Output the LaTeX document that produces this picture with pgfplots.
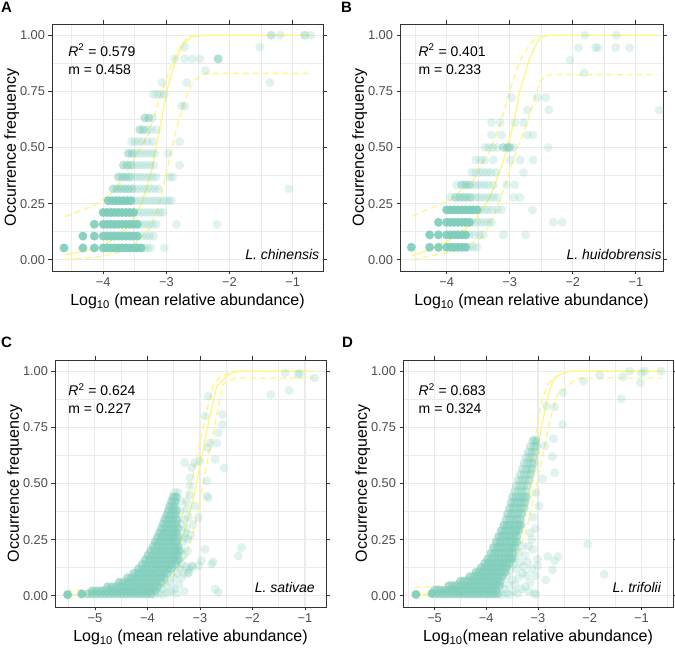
\documentclass[border=0pt]{standalone}
\usepackage{fontspec}
\setmainfont{Liberation Sans}
\usepackage{pgfplots}
\pgfplotsset{compat=1.18}

\definecolor{ptc}{RGB}{127,205,187}
\definecolor{fitc}{RGB}{255,245,130}
\definecolor{grid92}{gray}{0.92}
\definecolor{grey20}{gray}{0.2}
\definecolor{grey30}{gray}{0.3}

\tikzset{note/.style={font=\fontsize{14}{16}\selectfont, inner sep=0pt}}

\pgfplotsset{
  occ/.style={
    scale only axis,
    height=247pt,
    ymin=-0.05, ymax=1.05,
    ytick={0,0.25,0.5,0.75,1},
    yticklabels={0.00,0.25,0.50,0.75,1.00},
    minor ytick={0.125,0.375,0.625,0.875},
    grid=both,
    major grid style={grid92, line width=1.1pt},
    minor grid style={grid92, line width=0.55pt},
    axis line style={grey20, line width=0.8pt},
    tick style={grey20, line width=0.8pt},
    tick align=outside,
    major tick length=3.5pt,
    minor tick length=0pt,
    ticklabel style={font=\fontsize{12.8}{14}\selectfont, text=grey30},
    label style={font=\fontsize{16}{18}\selectfont},
    ylabel={Occurrence frequency},
    ylabel shift=-6pt,
    anchor=south west,
  },
  sat/.style={only marks, mark=*, color=ptc, mark size=4.5pt, mark options={draw opacity=0, fill=ptc, fill opacity=0.92}},
  core/.style={only marks, mark=*, color=ptc, mark size=4.5pt, mark options={draw opacity=0, fill=ptc, fill opacity=0.5}},
  mid/.style={only marks, mark=*, color=ptc, mark size=4.5pt, mark options={draw opacity=0, fill=ptc, fill opacity=0.38}},
  dense/.style={only marks, mark=*, color=ptc, mark size=4.5pt, mark options={draw opacity=0, fill=ptc, fill opacity=0.62}},
  faint/.style={only marks, mark=*, color=ptc, mark size=4.5pt, mark options={draw opacity=0, fill=ptc, fill opacity=0.24}},
  fit/.style={no markers, fitc, line width=1.3pt},
  fitd/.style={no markers, fitc, line width=1.3pt, dash pattern=on 6pt off 4pt},
}

\begin{document}
\begin{tikzpicture}
\useasboundingbox (0,0) rectangle (675pt,652pt);

% ---------------- A ----------------
\begin{axis}[occ, at={(52pt,381pt)}, width=271pt,
  xmin=-4.81, xmax=-0.52,
  xtick={-4,-3,-2,-1}, xticklabels={−4,−3,−2,−1},
  minor xtick={-4.5,-3.5,-2.5,-1.5},
  xlabel={Log\textsubscript{10} (mean relative abundance)}]
\addplot[sat] coordinates {
(-4.62,0.0526)(-4.32,0.0526)(-4.14,0.0526)(-4.00,0.0526)(-3.94,0.0526)(-3.88,0.0526)(-3.82,0.0526)(-3.76,0.0526)(-3.70,0.0526)(-3.64,0.0526)(-3.58,0.0526)(-3.52,0.0526)(-3.46,0.0526)(-3.40,0.0526)
(-4.32,0.1053)(-4.14,0.1053)(-4.00,0.1053)(-3.94,0.1053)(-3.88,0.1053)(-3.82,0.1053)(-3.76,0.1053)(-3.70,0.1053)(-3.64,0.1053)(-3.58,0.1053)(-3.52,0.1053)(-3.46,0.1053)
(-4.14,0.1579)(-4.00,0.1579)(-3.94,0.1579)(-3.88,0.1579)(-3.82,0.1579)(-3.76,0.1579)(-3.70,0.1579)(-3.64,0.1579)(-3.58,0.1579)(-3.52,0.1579)(-3.46,0.1579)
(-4.00,0.2105)(-3.94,0.2105)(-3.88,0.2105)(-3.82,0.2105)(-3.76,0.2105)(-3.70,0.2105)(-3.64,0.2105)(-3.58,0.2105)(-3.52,0.2105)
(-3.92,0.2632)(-3.86,0.2632)(-3.80,0.2632)(-3.74,0.2632)(-3.68,0.2632)(-3.62,0.2632)(-3.56,0.2632)
};
\addplot[core] coordinates {
(-3.84,0.3158)(-3.78,0.3158)(-3.72,0.3158)(-3.66,0.3158)(-3.60,0.3158)(-3.54,0.3158)
(-3.76,0.3684)(-3.70,0.3684)(-3.64,0.3684)(-3.58,0.3684)
(-3.68,0.4211)(-3.62,0.4211)(-3.56,0.4211)
(-3.60,0.4737)(-3.54,0.4737)
(-3.42,0.5789)(-3.36,0.5789)(-3.34,0.6316)(-3.28,0.6316)(-2.18,0.8947)
};
\addplot[faint] coordinates {
(-3.35,0.0526)(-3.30,0.0526)(-3.25,0.0526)(-3.03,0.0526)
(-3.38,0.1053)(-3.32,0.1053)(-3.26,0.1053)(-3.20,0.1053)
(-3.40,0.1579)(-3.34,0.1579)(-3.28,0.1579)(-3.22,0.1579)(-3.16,0.1579)(-2.84,0.1579)(-2.20,0.1579)
(-3.46,0.2105)(-3.40,0.2105)(-3.34,0.2105)(-3.28,0.2105)(-3.22,0.2105)(-3.16,0.2105)(-3.10,0.2105)(-3.05,0.2105)
(-3.50,0.2632)(-3.44,0.2632)(-3.38,0.2632)(-3.32,0.2632)(-3.26,0.2632)(-3.20,0.2632)(-3.14,0.2632)(-3.08,0.2632)(-3.02,0.2632)(-2.96,0.2632)(-2.92,0.2632)
(-3.48,0.3158)(-3.42,0.3158)(-3.36,0.3158)(-3.30,0.3158)(-3.24,0.3158)(-3.18,0.3158)(-3.12,0.3158)(-1.06,0.3158)
(-3.52,0.3684)(-3.46,0.3684)(-3.40,0.3684)(-3.34,0.3684)(-3.28,0.3684)(-3.22,0.3684)(-3.16,0.3684)(-2.95,0.3684)(-2.90,0.3684)
(-3.50,0.4211)(-3.44,0.4211)(-3.38,0.4211)(-3.32,0.4211)(-3.26,0.4211)(-3.20,0.4211)(-2.79,0.4211)
(-3.48,0.4737)(-3.42,0.4737)(-3.36,0.4737)(-3.30,0.4737)(-3.24,0.4737)(-3.18,0.4737)(-2.97,0.4737)
(-3.55,0.5263)(-3.50,0.5263)(-3.44,0.5263)(-3.38,0.5263)(-3.30,0.5263)(-3.22,0.5263)(-2.79,0.5263)
(-3.30,0.5789)(-3.24,0.5789)(-3.16,0.5789)
(-3.22,0.6316)
(-2.76,0.6842)(-2.71,0.6842)
(-3.21,0.7368)(-3.15,0.7368)(-3.09,0.7368)(-3.03,0.7368)
(-3.07,0.7895)(-2.68,0.7895)(-1.36,0.7895)
(-2.38,0.8421)
(-2.87,0.8947)(-2.71,0.8947)(-2.59,0.8947)(-2.47,0.8947)(-2.18,0.8947)
(-2.71,0.9474)(-1.52,0.9474)
(-1.34,1.0)(-1.20,1.0)(-0.81,1.0)(-0.71,1.0)(-1.34,1.0)(-0.81,1.0)
};
\addplot[fit] coordinates {(-4.60,0.022)(-4.30,0.038)(-4.02,0.059)(-3.80,0.100)(-3.60,0.148)(-3.39,0.251)(-3.23,0.400)(-3.12,0.561)(-2.99,0.753)(-2.86,0.886)(-2.73,0.960)(-2.60,0.993)(-2.39,1.0)(-0.71,1.0)};
\addplot[fitd] coordinates {(-4.60,0.192)(-4.13,0.244)(-3.81,0.310)(-3.55,0.428)(-3.28,0.561)(-3.17,0.660)(-3.07,0.753)(-2.90,0.880)(-2.78,0.950)(-2.67,0.990)(-2.55,1.0)};
\addplot[fitd] coordinates {(-4.60,0.0)(-4.02,0.015)(-3.60,0.044)(-3.28,0.133)(-3.12,0.236)(-2.99,0.400)(-2.86,0.561)(-2.73,0.690)(-2.62,0.770)(-2.55,0.800)(-2.39,0.830)(-0.71,0.830)};
\node[note, anchor=base west] at (axis cs:-4.555,0.907) {\textit{R}\textsuperscript{2} = 0.579};
\node[note, anchor=base west] at (axis cs:-4.555,0.823) {m = 0.458};
\node[note, anchor=base east] at (axis cs:-0.577,0.0) {\textit{L. chinensis}};
\end{axis}

% ---------------- B ----------------
\begin{axis}[occ, at={(400pt,381pt)}, width=263pt,
  xmin=-4.74, xmax=-0.57,
  xtick={-4,-3,-2,-1}, xticklabels={−4,−3,−2,−1},
  minor xtick={-4.5,-3.5,-2.5,-1.5},
  xlabel={Log\textsubscript{10} (mean relative abundance)}]
\addplot[sat] coordinates {
(-4.56,0.0556)(-4.27,0.0556)(-4.13,0.0556)(-4.00,0.0556)(-3.94,0.0556)(-3.88,0.0556)(-3.82,0.0556)(-3.76,0.0556)(-3.70,0.0556)
(-4.27,0.1111)(-4.13,0.1111)(-4.00,0.1111)(-3.94,0.1111)(-3.88,0.1111)(-3.82,0.1111)(-3.76,0.1111)(-3.70,0.1111)
(-4.13,0.1667)(-4.00,0.1667)(-3.94,0.1667)(-3.88,0.1667)(-3.82,0.1667)(-3.76,0.1667)(-3.70,0.1667)(-3.64,0.1667)
(-4.00,0.2222)(-3.94,0.2222)(-3.88,0.2222)(-3.82,0.2222)(-3.76,0.2222)(-3.70,0.2222)(-3.64,0.2222)(-3.58,0.2222)(-3.52,0.2222)
};
\addplot[core] coordinates {
(-3.86,0.2778)(-3.80,0.2778)(-3.74,0.2778)(-3.68,0.2778)(-3.62,0.2778)
(-3.76,0.3333)(-3.70,0.3333)(-3.64,0.3333)
(-3.10,0.5)(-3.04,0.5)(-3.00,0.5)
};
\addplot[faint] coordinates {
(-3.64,0.0556)(-3.58,0.0556)(-3.52,0.0556)
(-3.64,0.1111)(-3.56,0.1111)(-3.48,0.1111)(-3.42,0.1111)(-3.10,0.1111)(-2.75,0.1111)
(-3.58,0.1667)(-3.52,0.1667)(-3.46,0.1667)(-3.40,0.1667)(-3.34,0.1667)(-3.29,0.1667)(-2.31,0.1667)(-2.17,0.1667)
(-3.46,0.2222)(-3.40,0.2222)(-3.34,0.2222)(-3.28,0.2222)(-3.20,0.2222)(-3.13,0.2222)(-2.64,0.2222)
(-3.94,0.2778)(-3.56,0.2778)(-3.50,0.2778)(-3.44,0.2778)(-3.38,0.2778)(-3.32,0.2778)(-3.26,0.2778)(-3.20,0.2778)(-2.94,0.2778)(-2.84,0.2778)
(-3.84,0.3333)(-3.58,0.3333)(-3.52,0.3333)(-3.46,0.3333)(-3.40,0.3333)(-3.34,0.3333)(-3.26,0.3333)(-3.05,0.3333)(-2.92,0.3333)
(-3.60,0.3889)(-3.54,0.3889)(-3.48,0.3889)(-3.42,0.3889)(-3.36,0.3889)(-3.30,0.3889)(-3.22,0.3889)(-2.78,0.3889)
(-3.54,0.4444)(-3.46,0.4444)(-3.40,0.4444)(-3.26,0.4444)(-2.99,0.4444)(-2.84,0.4444)(-2.63,0.4444)
(-3.39,0.5)(-3.33,0.5)(-3.27,0.5)(-3.20,0.5)(-2.94,0.5)(-2.39,0.5)
(-3.29,0.5556)(-3.13,0.5556)(-2.72,0.5556)(-2.63,0.5556)
(-3.29,0.6111)(-3.15,0.6111)(-2.92,0.6111)(-2.78,0.6111)
(-2.72,0.6667)(-2.38,0.6667)(-0.63,0.6667)
(-2.97,0.7222)(-2.56,0.7222)(-2.43,0.7222)
(-1.82,0.8333)
(-2.04,0.8889)
(-1.91,0.9444)(-1.64,0.9444)(-1.60,0.9444)(-1.32,0.9444)(-1.10,0.9444)
(-1.81,1.0)(-1.31,1.0)
};
\addplot[fit] coordinates {(-4.56,0.018)(-4.30,0.040)(-3.95,0.089)(-3.58,0.162)(-3.31,0.280)(-3.15,0.400)(-3.05,0.487)(-2.94,0.606)(-2.84,0.753)(-2.68,0.900)(-2.60,0.950)(-2.52,0.990)(-2.38,1.0)(-0.65,1.0)};
\addplot[fitd] coordinates {(-4.54,0.195)(-3.95,0.266)(-3.58,0.355)(-3.31,0.487)(-3.15,0.606)(-3.00,0.753)(-2.84,0.886)(-2.68,0.960)(-2.55,1.0)};
\addplot[fitd] coordinates {(-4.54,0.0)(-3.79,0.044)(-3.42,0.103)(-3.21,0.220)(-3.05,0.355)(-2.89,0.487)(-2.73,0.606)(-2.60,0.724)(-2.52,0.797)(-2.39,0.824)(-0.65,0.824)};
\node[note, anchor=base west] at (axis cs:-4.449,0.907) {\textit{R}\textsuperscript{2} = 0.401};
\node[note, anchor=base west] at (axis cs:-4.449,0.823) {m = 0.233};
\node[note, anchor=base east] at (axis cs:-0.59,0.0) {\textit{L. huidobrensis}};
\end{axis}

% ---------------- C ----------------
\begin{axis}[occ, at={(55pt,45pt)}, width=271pt,
  xmin=-5.76, xmax=-0.6,
  xtick={-5,-4,-3,-2,-1}, xticklabels={−5,−4,−3,−2,−1},
  minor xtick={-5.5,-4.5,-3.5,-2.5,-1.5},
  xlabel={Log\textsubscript{10} (mean relative abundance)}]
\addplot[sat] coordinates {(-5.52,0.005)(-5.25,0.008)};
\addplot[dense] coordinates {
(-5.13,0.008)(-5.05,0.008)(-4.97,0.008)(-4.89,0.008)(-4.81,0.008)(-4.73,0.008)(-4.65,0.008)(-4.57,0.008)(-4.49,0.008)(-4.41,0.008)(-4.33,0.008)(-4.25,0.008)(-4.17,0.008)(-4.09,0.008)(-4.01,0.008)(-3.93,0.008)
(-5.05,0.022)(-4.97,0.022)(-4.89,0.022)(-4.81,0.022)(-4.73,0.022)(-4.65,0.022)(-4.57,0.022)(-4.49,0.022)(-4.41,0.022)(-4.33,0.022)(-4.25,0.022)(-4.17,0.022)(-4.09,0.022)(-4.01,0.022)(-3.93,0.022)(-3.85,0.022)
(-4.76,0.04)(-4.68,0.04)(-4.60,0.04)(-4.52,0.04)(-4.44,0.04)(-4.36,0.04)(-4.28,0.04)(-4.20,0.04)(-4.12,0.04)(-4.04,0.04)(-3.96,0.04)(-3.88,0.04)(-3.80,0.04)
(-4.54,0.06)(-4.46,0.06)(-4.38,0.06)(-4.30,0.06)(-4.22,0.06)(-4.14,0.06)(-4.06,0.06)(-3.98,0.06)(-3.90,0.06)(-3.82,0.06)(-3.74,0.06)
(-4.38,0.08)(-4.30,0.08)(-4.22,0.08)(-4.14,0.08)(-4.06,0.08)(-3.98,0.08)(-3.90,0.08)(-3.82,0.08)(-3.74,0.08)(-3.68,0.08)
(-4.26,0.10)(-4.18,0.10)(-4.10,0.10)(-4.02,0.10)(-3.94,0.10)(-3.86,0.10)(-3.78,0.10)(-3.70,0.10)(-3.62,0.10)
(-4.17,0.12)(-4.09,0.12)(-4.01,0.12)(-3.93,0.12)(-3.85,0.12)(-3.77,0.12)(-3.69,0.12)(-3.61,0.12)(-3.54,0.12)
(-4.10,0.14)(-4.02,0.14)(-3.94,0.14)(-3.86,0.14)(-3.78,0.14)(-3.70,0.14)(-3.62,0.14)(-3.54,0.14)(-3.47,0.14)
(-4.04,0.16)(-3.96,0.16)(-3.88,0.16)(-3.80,0.16)(-3.72,0.16)(-3.64,0.16)(-3.56,0.16)(-3.48,0.16)(-3.42,0.16)
(-3.99,0.18)(-3.91,0.18)(-3.83,0.18)(-3.75,0.18)(-3.67,0.18)(-3.59,0.18)(-3.51,0.18)(-3.43,0.18)
(-3.94,0.20)(-3.86,0.20)(-3.78,0.20)(-3.70,0.20)(-3.62,0.20)(-3.54,0.20)(-3.46,0.20)(-3.40,0.20)
(-3.89,0.22)(-3.81,0.22)(-3.73,0.22)(-3.65,0.22)(-3.57,0.22)(-3.49,0.22)(-3.42,0.22)
(-3.85,0.24)(-3.77,0.24)(-3.69,0.24)(-3.61,0.24)(-3.53,0.24)(-3.45,0.24)
(-3.81,0.26)(-3.73,0.26)(-3.65,0.26)(-3.57,0.26)(-3.49,0.26)(-3.42,0.26)
(-3.77,0.28)(-3.69,0.28)(-3.61,0.28)(-3.53,0.28)(-3.45,0.28)
(-3.73,0.30)(-3.65,0.30)(-3.57,0.30)(-3.49,0.30)(-3.42,0.30)
(-3.70,0.32)(-3.62,0.32)(-3.54,0.32)(-3.46,0.32)
(-3.67,0.34)(-3.59,0.34)(-3.51,0.34)(-3.44,0.34)
(-3.63,0.36)(-3.55,0.36)(-3.47,0.36)
(-3.60,0.38)(-3.52,0.38)(-3.45,0.38)
(-3.57,0.40)(-3.49,0.40)
(-3.54,0.42)(-3.47,0.42)
(-3.51,0.44)(-3.45,0.44)
};
\addplot[faint] coordinates {
(-3.86,0.006)(-3.78,0.01)(-3.70,0.005)(-3.62,0.012)(-3.55,0.02)(-3.48,0.03)(-3.40,0.05)(-3.72,0.03)(-3.64,0.045)(-3.57,0.06)(-3.50,0.08)(-3.44,0.10)
(-3.38,0.12)(-3.34,0.14)(-3.30,0.10)(-3.26,0.13)(-3.35,0.20)(-3.32,0.24)(-3.28,0.28)(-3.36,0.32)(-3.30,0.34)(-3.38,0.38)(-3.42,0.46)(-3.48,0.46)
(-3.36,0.42)(-3.20,0.12)(-3.14,0.13)(-3.22,0.10)(-3.35,0.08)(-3.45,0.01)(-3.30,0.02)(-3.40,0.16)(-3.30,0.18)(-3.24,0.20)(-3.20,0.45)(-3.25,0.42)
(-3.22,0.35)(-3.26,0.30)(-3.18,0.27)(-3.30,0.26)(-3.29,0.593)(-3.16,0.57)(-3.10,0.593)(-3.19,0.526)(-3.19,0.489)(-2.87,0.511)(-2.87,0.444)(-2.84,0.437)
(-3.25,0.385)(-3.10,0.40)(-3.03,0.348)(-3.13,0.318)(-3.23,0.252)(-2.90,0.207)(-2.21,0.215)(-2.27,0.178)(-2.97,0.156)(-2.75,0.151)(-2.78,0.141)(-3.16,0.133)
(-3.03,0.133)(-3.22,0.104)(-2.71,0.03)(-2.65,0.015)(-2.84,0.889)(-2.90,0.80)(-2.57,0.807)(-2.57,0.763)(-2.65,0.726)(-2.68,0.68)(-2.81,0.681)(-2.85,0.659)
(-2.71,0.607)(-2.54,0.57)(-1.65,0.896)(-1.30,0.914)(-1.38,0.993)(-1.10,0.99)(-1.13,0.985)(-0.82,0.97)(-3.00,0.60)
};
\addplot[fit] coordinates {(-5.54,0.003)(-5.00,0.007)(-4.52,0.022)(-4.00,0.052)(-3.70,0.104)(-3.51,0.163)(-3.32,0.267)(-3.19,0.370)(-3.06,0.504)(-2.94,0.652)(-2.81,0.800)(-2.68,0.933)(-2.57,0.960)(-2.45,0.985)(-2.33,0.997)(-2.20,1.0)(-0.84,1.0)};
\addplot[fitd] coordinates {(-5.54,0.022)(-5.00,0.030)(-4.52,0.052)(-4.00,0.104)(-3.70,0.185)(-3.51,0.252)(-3.32,0.370)(-3.16,0.504)(-3.03,0.652)(-2.90,0.800)(-2.75,0.933)(-2.62,0.975)(-2.45,0.995)(-2.33,1.0)(-0.84,1.0)};
\addplot[fitd] coordinates {(-5.16,0.0)(-4.52,0.003)(-4.00,0.018)(-3.70,0.044)(-3.44,0.104)(-3.25,0.193)(-3.10,0.311)(-2.97,0.459)(-2.84,0.622)(-2.71,0.770)(-2.57,0.940)(-2.45,0.955)(-2.33,0.970)(-0.84,0.970)};
\node[note, anchor=base west] at (axis cs:-5.508,0.892) {\textit{R}\textsuperscript{2} = 0.624};
\node[note, anchor=base west] at (axis cs:-5.508,0.810) {m = 0.227};
\node[note, anchor=base east] at (axis cs:-0.81,0.015) {\textit{L. sativae}};
\end{axis}

% ---------------- D ----------------
\begin{axis}[occ, at={(403pt,45pt)}, width=270pt,
  xmin=-5.61, xmax=-0.39,
  xtick={-5,-4,-3,-2,-1}, xticklabels={−5,−4,−3,−2,−1},
  minor xtick={-5.5,-4.5,-3.5,-2.5,-1.5,-0.5},
  xlabel={Log\textsubscript{10}(mean relative abundance)}]
\addplot[sat] coordinates {(-5.36,0.006)(-5.05,0.01)};
\addplot[dense] coordinates {
(-4.97,0.008)(-4.90,0.008)(-4.83,0.008)(-4.76,0.008)(-4.69,0.008)(-4.62,0.008)(-4.55,0.008)(-4.48,0.008)(-4.41,0.008)(-4.34,0.008)(-4.27,0.008)(-4.20,0.008)(-4.13,0.008)(-4.06,0.008)(-3.99,0.008)(-3.92,0.008)(-3.85,0.008)(-3.78,0.008)
(-5.00,0.025)(-4.93,0.025)(-4.86,0.025)(-4.79,0.025)(-4.72,0.025)(-4.65,0.025)(-4.58,0.025)(-4.51,0.025)(-4.44,0.025)(-4.37,0.025)(-4.30,0.025)(-4.23,0.025)(-4.16,0.025)(-4.09,0.025)(-4.02,0.025)(-3.95,0.025)(-3.88,0.025)(-3.81,0.025)
(-4.72,0.045)(-4.65,0.045)(-4.58,0.045)(-4.51,0.045)(-4.44,0.045)(-4.37,0.045)(-4.30,0.045)(-4.23,0.045)(-4.16,0.045)(-4.09,0.045)(-4.02,0.045)(-3.95,0.045)(-3.88,0.045)(-3.81,0.045)(-3.74,0.045)
(-4.50,0.065)(-4.43,0.065)(-4.36,0.065)(-4.29,0.065)(-4.22,0.065)(-4.15,0.065)(-4.08,0.065)(-4.01,0.065)(-3.94,0.065)(-3.87,0.065)(-3.80,0.065)(-3.73,0.065)
(-4.32,0.085)(-4.25,0.085)(-4.18,0.085)(-4.11,0.085)(-4.04,0.085)(-3.97,0.085)(-3.90,0.085)(-3.83,0.085)(-3.76,0.085)(-3.69,0.085)
(-4.20,0.105)(-4.13,0.105)(-4.06,0.105)(-3.99,0.105)(-3.92,0.105)(-3.85,0.105)(-3.78,0.105)(-3.71,0.105)(-3.64,0.105)
(-4.10,0.125)(-4.03,0.125)(-3.96,0.125)(-3.89,0.125)(-3.82,0.125)(-3.75,0.125)(-3.68,0.125)(-3.61,0.125)
(-4.03,0.145)(-3.96,0.145)(-3.89,0.145)(-3.82,0.145)(-3.75,0.145)(-3.68,0.145)(-3.61,0.145)(-3.55,0.145)
(-3.97,0.165)(-3.90,0.165)(-3.83,0.165)(-3.76,0.165)(-3.69,0.165)(-3.62,0.165)(-3.55,0.165)(-3.50,0.165)
(-3.91,0.19)(-3.84,0.19)(-3.77,0.19)(-3.70,0.19)(-3.63,0.19)(-3.56,0.19)(-3.49,0.19)
(-3.86,0.215)(-3.79,0.215)(-3.72,0.215)(-3.65,0.215)(-3.58,0.215)(-3.51,0.215)(-3.45,0.215)
(-3.81,0.24)(-3.74,0.24)(-3.67,0.24)(-3.60,0.24)(-3.53,0.24)(-3.46,0.24)(-3.41,0.24)
(-3.76,0.265)(-3.69,0.265)(-3.62,0.265)(-3.55,0.265)(-3.48,0.265)(-3.41,0.265)
(-3.71,0.29)(-3.64,0.29)(-3.57,0.29)(-3.50,0.29)(-3.43,0.29)(-3.37,0.29)
(-3.66,0.315)(-3.59,0.315)(-3.52,0.315)(-3.45,0.315)(-3.38,0.315)(-3.33,0.315)
};
\addplot[core] coordinates {
(-3.62,0.34)(-3.55,0.34)(-3.48,0.34)(-3.41,0.34)(-3.34,0.34)
(-3.59,0.365)(-3.52,0.365)(-3.45,0.365)(-3.38,0.365)(-3.31,0.365)
(-3.55,0.39)(-3.48,0.39)(-3.41,0.39)(-3.34,0.39)(-3.27,0.39)
(-3.52,0.415)(-3.45,0.415)(-3.38,0.415)(-3.31,0.415)(-3.25,0.415)
(-3.49,0.44)(-3.42,0.44)(-3.35,0.44)(-3.28,0.44)(-3.22,0.44)
};
\addplot[mid] coordinates {
(-3.45,0.465)(-3.38,0.465)(-3.31,0.465)(-3.24,0.465)
(-3.42,0.49)(-3.35,0.49)(-3.28,0.49)(-3.21,0.49)
(-3.38,0.515)(-3.31,0.515)(-3.24,0.515)(-3.17,0.515)
(-3.34,0.54)(-3.27,0.54)(-3.20,0.54)(-3.14,0.54)
(-3.30,0.565)(-3.23,0.565)(-3.16,0.565)(-3.11,0.565)
(-3.27,0.59)(-3.20,0.59)(-3.13,0.59)(-3.08,0.59)
(-3.23,0.615)(-3.16,0.615)(-3.09,0.615)
(-3.19,0.64)(-3.12,0.64)(-3.05,0.64)
(-3.15,0.665)(-3.08,0.665)(-3.03,0.665)
(-3.10,0.69)(-3.04,0.69)
};
\addplot[faint] coordinates {
(-3.70,0.005)(-3.62,0.01)(-3.55,0.005)(-3.48,0.02)(-3.40,0.01)(-3.32,0.03)(-3.65,0.03)(-3.58,0.05)(-3.50,0.07)(-3.44,0.05)(-3.38,0.08)(-3.30,0.10)
(-3.42,0.12)(-3.35,0.15)(-3.28,0.13)(-3.22,0.09)(-3.15,0.06)(-3.25,0.04)(-3.18,0.02)(-3.08,0.01)(-3.45,0.17)(-3.38,0.19)(-3.30,0.22)(-3.25,0.18)
(-3.20,0.15)(-3.12,0.12)(-3.05,0.09)(-3.60,0.09)(-3.55,0.11)(-3.48,0.14)
(-3.10,0.35)(-3.05,0.30)(-3.15,0.28)(-2.98,0.40)(-3.18,0.22)(-3.12,0.25)
(-3.10,0.207)(-3.01,0.163)(-2.81,0.175)(-2.68,0.156)(-2.61,0.175)(-3.01,0.133)(-2.72,0.116)(-2.85,0.071)(-3.04,0.007)(-2.04,0.23)(-1.72,0.096)
(-2.84,0.844)(-2.68,0.84)(-2.52,0.904)(-2.52,0.763)(-2.70,0.699)(-3.07,0.696)(-3.04,0.681)(-2.72,0.619)(-2.68,0.548)(-2.91,0.521)(-3.04,0.459)(-2.87,0.667)
(-2.12,0.956)(-1.81,0.982)(-1.36,0.975)(-1.23,1.0)(-1.00,0.993)(-0.94,1.0)(-1.02,0.948)(-1.39,0.877)(-0.62,1.0)
};
\addplot[fit] coordinates {(-5.39,0.003)(-5.00,0.010)(-4.52,0.030)(-4.00,0.074)(-3.74,0.126)(-3.55,0.193)(-3.35,0.296)(-3.19,0.430)(-3.06,0.578)(-2.94,0.741)(-2.81,0.889)(-2.71,0.960)(-2.62,0.978)(-2.46,0.998)(-2.30,1.0)(-0.61,1.0)};
\addplot[fitd] coordinates {(-5.39,0.037)(-5.00,0.041)(-4.52,0.067)(-4.00,0.133)(-3.74,0.207)(-3.55,0.281)(-3.35,0.400)(-3.19,0.548)(-3.06,0.696)(-2.94,0.859)(-2.81,0.940)(-2.70,0.970)(-2.46,0.996)(-2.30,1.0)(-0.61,1.0)};
\addplot[fitd] coordinates {(-5.39,0.0)(-5.00,0.0)(-4.52,0.007)(-4.00,0.037)(-3.74,0.074)(-3.55,0.126)(-3.35,0.207)(-3.19,0.326)(-3.03,0.489)(-2.90,0.637)(-2.77,0.785)(-2.62,0.900)(-2.52,0.915)(-2.26,0.966)(-2.10,0.970)(-0.61,0.970)};
\node[note, anchor=base west] at (axis cs:-5.31,0.892) {\textit{R}\textsuperscript{2} = 0.683};
\node[note, anchor=base west] at (axis cs:-5.31,0.810) {m = 0.324};
\node[note, anchor=base east] at (axis cs:-0.613,0.015) {\textit{L. trifolii}};
\end{axis}

\node[anchor=base west, inner sep=0pt, font=\fontsize{15}{17}\selectfont\bfseries] at (1pt,639pt) {A};
\node[anchor=base west, inner sep=0pt, font=\fontsize{15}{17}\selectfont\bfseries] at (341pt,639pt) {B};
\node[anchor=base west, inner sep=0pt, font=\fontsize{15}{17}\selectfont\bfseries] at (1pt,304pt) {C};
\node[anchor=base west, inner sep=0pt, font=\fontsize{15}{17}\selectfont\bfseries] at (342pt,304pt) {D};
\end{tikzpicture}
\end{document}
